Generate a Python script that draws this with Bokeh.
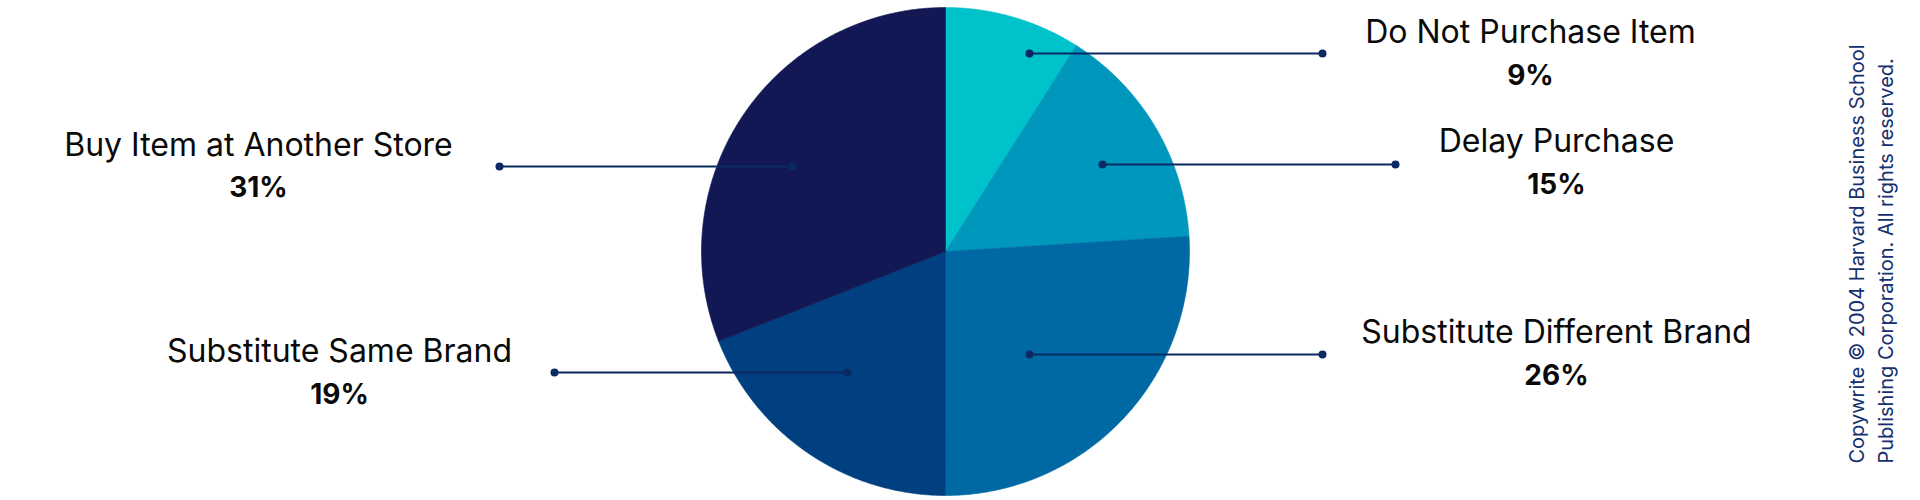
import numpy as np
from bokeh.plotting import figure
from bokeh.models import Range1d, Label, ColumnDataSource
from bokeh.embed import file_html
from bokeh.resources import INLINE
from bokeh.core.properties import value

# ---- data ----
categories = ["Do Not Purchase Item", "Delay Purchase", "Substitute Different Brand",
              "Substitute Same Brand", "Buy Item at Another Store"]
shares = [9, 15, 26, 19, 31]
pct_labels = ["9%", "15%", "26%", "19%", "31%"]
colors = ["#00C2CB", "#0097BC", "#0069A3", "#003F80", "#111854"]
copyright_lines = ["Copywrite \u00a9 2004 Harvard Business School",
                   "Publishing Corporation. All rights reserved."]

# ---- layout (picture pixel space) ----
W, H = 1920, 500
cx, cy, r = 945, 251, 244
anchor_x = [1029, 1102, 1029, 847, 792]
anchor_y = [53, 164, 354, 372, 166]
outer_x = [1322, 1395, 1322, 554, 499]
label_x = [1530, 1556, 1556, 339, 258]
label_y = [31, 140, 331, 349.5, 143.5]
pct_y = [74, 183, 374, 393, 186]
FONT = "Inter"
NAVY = "#0B2A63"

p = figure(width=W, height=H, output_backend="svg", toolbar_location=None,
           x_range=Range1d(0, W), y_range=Range1d(H, 0),
           min_border=0, background_fill_color="white", border_fill_color="white")
p.axis.visible = False
p.grid.visible = False
p.outline_line_color = None

# pie, clockwise from 12 o'clock
total = float(sum(shares))
cum = np.concatenate([[0], np.cumsum(shares)]) / total * 2 * np.pi
xs, ys = [], []
for i in range(len(shares)):
    t = np.linspace(cum[i], cum[i + 1], 240)
    xs.append(list(np.concatenate([[cx], cx + r * np.sin(t)])))
    ys.append(list(np.concatenate([[cy], cy - r * np.cos(t)])))
p.patches(xs, ys, fill_color=colors, line_color=colors, line_width=0.6)

# leader lines
p.segment(x0=anchor_x, y0=anchor_y, x1=outer_x, y1=anchor_y, line_color=NAVY, line_width=2)
p.scatter(x=anchor_x + outer_x, y=anchor_y + anchor_y, size=8, fill_color=NAVY, line_color=None)

src = ColumnDataSource(dict(x=label_x, y=label_y, yp=pct_y, t=categories, pc=pct_labels))
p.text(x="x", y="y", text="t", source=src, text_align="center", text_baseline="alphabetic",
       text_font=value(FONT), text_font_size="32px", text_color="#0A0A0A")
p.text(x="x", y="yp", text="pc", source=src, text_align="center", text_baseline="alphabetic",
       text_font=value(FONT), text_font_size="28px", text_font_style="bold", text_color="#0A0A0A")

for line, bx in zip(copyright_lines, [1856.5, 1885]):
    p.add_layout(Label(x=bx, y=463, text=line, angle=np.pi / 2, text_align="left",
                       text_baseline="alphabetic", text_font=FONT, text_font_size="20px",
                       text_color="#14306E"))

open("out.html", "w").write(file_html(p, INLINE))
